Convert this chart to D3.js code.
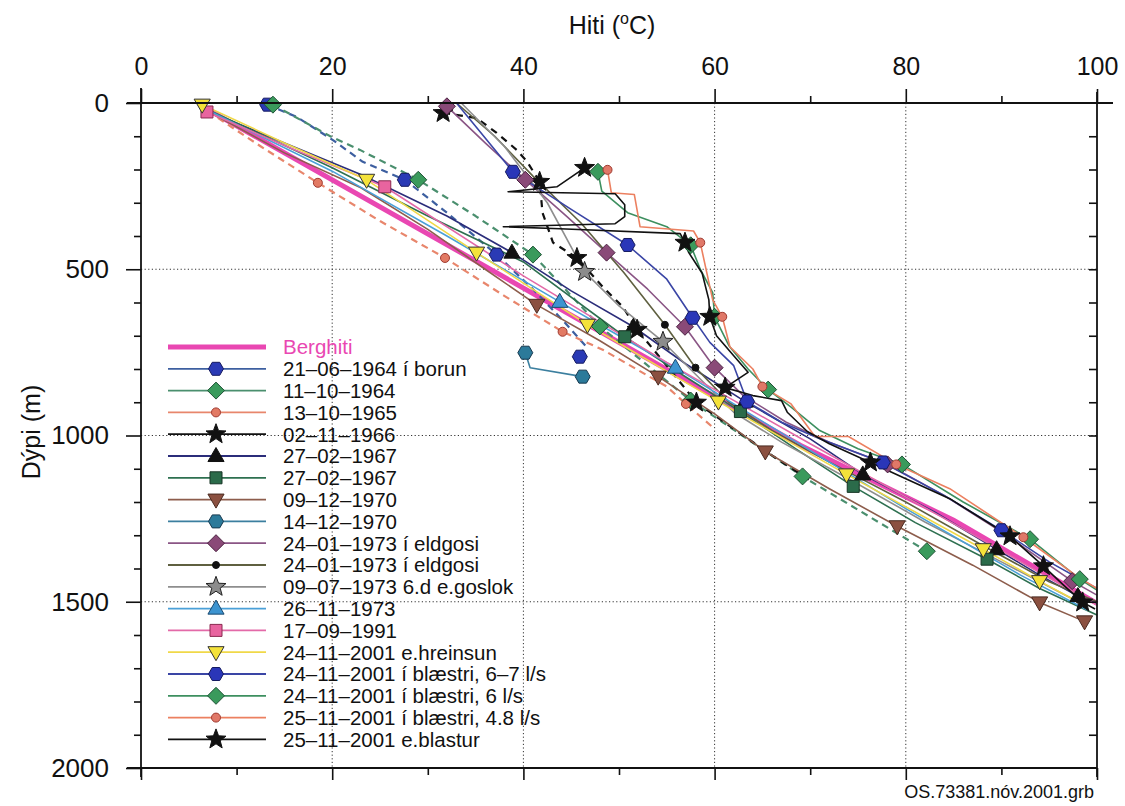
<!DOCTYPE html>
<html><head><meta charset="utf-8">
<script src="https://cdn.jsdelivr.net/npm/d3@7"></script>
<style>body{margin:0;background:#fff} svg{display:block} text{font-family:"Liberation Sans",Arial,Helvetica,sans-serif}</style>
</head><body><svg id="c" width="1125" height="806"></svg>
<script>
// ---------- data: [temperature °C, depth m, marker flag] ----------
const xMajor = [0,20,40,60,80,100];
const xMinor = [10,30,50,70,90];
const yMajor = [0,500,1000,1500,2000];
const xGrid = [20,40,60,80];
const yGrid = [500,1000,1500];

const berghiti = [[7,20],[35,475],[69,1030],[85,1255],[100,1505]];

const s1964a = [[13.2,5,1],[16.3,42,0],[20,110,0],[23.2,177,0],[27.6,231,1],[32,330,0],[37.2,456,1],[41,560,0],[44,650,0],[46.5,730,0],[45.9,763,1]];
const s1964b = [[13.8,5,1],[19.8,100,0],[22.9,141,0],[29,231,1],[35,340,0],[41,456,1],[48,672,1],[57.5,895,1],[69.2,1123,1],[82.2,1348,1]];
const s1965 = [[7,25,0],[12.5,130,0],[18.5,240,1],[25,355,0],[31.8,466,1],[38,580,0],[44.1,688,1],[48.3,742,0],[55,853,0],[57,905,1],[60,980,0]];
const s1966 = [[31.6,30,1],[35.1,45,0],[37.2,90,0],[39.3,141,0],[40.4,177,0],[41.7,237,1],[42,330,0],[43.1,420,0],[45.6,466,1],[48.3,553,0],[50.4,613,0],[51.9,682,1],[55,790,0],[58.1,901,1],[62,980,0],[66,1060,0],[70.3,1141,0]];
const s1967a = [[7,25,0],[15,120,0],[23,215,0],[32,340,0],[38.8,450,1],[45,565,0],[51.5,673,1],[57,785,0],[63.2,898,1],[70,1010,0],[75.5,1117,1],[83,1230,0],[89.5,1342,1],[94,1420,0],[98,1483,1],[100,1505,0]];
const s1967b = [[7,20,0],[20,195,0],[30,340,0],[40,478,0],[50.6,703,1],[56.5,815,0],[62.7,928,1],[68.5,1040,0],[74.5,1153,1],[81,1262,0],[88.5,1372,1],[94,1460,0],[100,1540,0]];
const s1970a = [[7,25,0],[15,150,0],[23,255,0],[30,380,0],[36,500,0],[41.4,607,1],[48,715,0],[54.1,823,1],[60,935,0],[65.3,1048,1],[72,1160,0],[79.1,1273,1],[87,1390,0],[94,1502,1],[98.7,1559,1]];
const s1970b = [[40.2,751,1],[40.7,796,0],[46.2,823,1]];
const s1973a = [[32,10,1],[36,120,0],[40.2,231,1],[44.5,340,0],[48.7,450,1],[53,560,0],[56.9,673,1],[60,796,1],[63,880,0],[67.5,960,0],[72,1020,0],[78.1,1087,1],[84,1180,0],[90,1290,0],[97.4,1438,1],[100,1480,0]];
const s1973b = [[33,0,0],[37,100,0],[41,220,0],[46,360,0],[50.5,510,0],[54.8,667,1],[58,796,1],[61.5,900,0],[66,985,0],[72,1080,0],[80,1200,0],[88,1330,0],[95,1440,0],[100,1500,0]];
const s1973c = [[33.5,0,0],[38,130,0],[42.5,300,0],[46.4,508,1],[50,610,0],[54.6,718,1],[58.5,830,0],[62,930,0],[67,1020,0],[74,1130,0],[82,1260,0],[90,1380,0],[98,1500,0]];
const s1973d = [[7,22,0],[20,205,0],[32,400,0],[43.8,598,1],[50,700,0],[55.9,796,1],[62,905,0],[68,1010,0],[80,1220,0],[92,1420,0],[99,1525,0]];
const s1991 = [[6.9,27,1],[16,140,0],[25.5,252,1],[40,520,0],[55,780,0],[70,1025,0],[85,1265,0],[100,1510,0]];
const s2001a = [[6.4,5,1],[15,120,0],[23.6,231,1],[35.1,450,1],[46.7,667,1],[60.4,898,1],[73.8,1117,1],[88.1,1342,1],[94,1438,1],[98,1500,0]];
const s2001b = [[33,0,0],[38.9,207,1],[45,320,0],[50.9,427,1],[55,530,0],[57.7,646,1],[59.5,720,0],[62,790,0],[63.4,898,1],[67,960,0],[71,1010,0],[77.6,1081,1],[84,1180,0],[90,1285,1],[95,1380,0],[100,1460,0]];
const s2001c = [[47.8,207,1],[48.2,265,0],[50.9,330,0],[55,372,0],[57.5,428,1],[58.5,500,0],[59.8,570,0],[60,643,1],[61.5,730,0],[63.5,800,0],[65.6,862,1],[68,915,0],[71,985,0],[75,1040,0],[79.6,1087,1],[86,1200,0],[93,1312,1],[98.2,1432,1],[100,1465,0]];
const s2001d = [[48.8,201,1],[49.2,270,0],[51.6,275,0],[52.2,372,0],[57.8,385,0],[58.5,420,1],[59.8,592,0],[60.8,643,1],[61.6,733,0],[64,800,0],[65,853,1],[68,905,0],[70.5,1003,0],[74,1003,0],[79,1087,1],[84.6,1160,0],[92.3,1306,1],[98,1425,0],[100,1460,0]];
const s2001e = [[46.4,195,1],[43.5,252,0],[38.4,267,0],[49.6,273,0],[50.6,306,0],[50.6,342,0],[49.6,363,0],[37.9,372,0],[43.8,378,0],[56.4,393,0],[56.9,420,1],[57.3,450,0],[58.7,512,0],[59.4,592,0],[59.5,643,1],[60.2,700,0],[62,760,0],[63.5,810,0],[61.1,856,1],[64,880,0],[67,895,0],[67.6,930,0],[69.7,988,0],[72,1025,0],[76.3,1081,1],[80,1130,0],[84.6,1190,0],[90.9,1303,1],[94.4,1393,1],[96.5,1450,0],[98.5,1502,1],[99.8,1522,0]];

const labels = ["21–06–1964 í borun","11–10–1964","13–10–1965","02–11–1966","27–02–1967","27–02–1967","09–12–1970","14–12–1970","24–01–1973 í eldgosi","24–01–1973 í eldgosi","09–07–1973 6.d e.goslok","26–11–1973","17–09–1991","24–11–2001 e.hreinsun","24–11–2001 í blæstri, 6–7 l/s","24–11–2001 í blæstri, 6 l/s","25–11–2001 í blæstri, 4.8 l/s","25–11–2001 e.blastur"];
const seriesData = [s1964a,s1964b,s1965,s1966,s1967a,s1967b,s1970a,s1970b,s1973a,s1973b,s1973c,s1973d,s1991,s2001a,s2001b,s2001c,s2001d,s2001e];

// ---------- styles ----------
const styles = [
 {line:"#3d5fa0",dash:"7,5",shape:"hex",fill:"#2a3ab5",stroke:"#151a60",r:7.5},
 {line:"#4a8f6e",dash:"7,5",shape:"diamond",fill:"#3a9a5c",stroke:"#1f5236",r:8.5},
 {line:"#e8866c",dash:"7,5",shape:"circle",fill:"#e27a64",stroke:"#a03a30",r:4.5},
 {line:"#111",dash:"7,6",shape:"star",fill:"#111",stroke:"#111",r:10.5},
 {line:"#2b2d7a",dash:null,shape:"tri",fill:"#111",stroke:"#111",r:8.5},
 {line:"#2e7050",dash:null,shape:"square",fill:"#2b6b4a",stroke:"#173525",r:6},
 {line:"#8d5d4c",dash:null,shape:"tridown",fill:"#8b5040",stroke:"#4a2a20",r:8.5},
 {line:"#3b7f9f",dash:null,shape:"hex",fill:"#2c7a9a",stroke:"#17384e",r:7.5},
 {line:"#8a5585",dash:null,shape:"diamond",fill:"#8a4a78",stroke:"#4a2040",r:8.5},
 {line:"#5f6040",dash:null,shape:"circle",fill:"#111",stroke:"#111",r:3.5},
 {line:"#8e8e8e",dash:null,shape:"star",fill:"#8c8c8c",stroke:"#222",r:10.5},
 {line:"#4aa0d8",dash:null,shape:"tri",fill:"#3d94d0",stroke:"#1a4a70",r:8.5},
 {line:"#e36aa8",dash:null,shape:"square",fill:"#e8649f",stroke:"#8a2a50",r:6},
 {line:"#f0d848",dash:null,shape:"tridown",fill:"#f4e23a",stroke:"#333",r:8.5},
 {line:"#3a45a5",dash:null,shape:"hex",fill:"#2a36b8",stroke:"#151a60",r:7.5},
 {line:"#3d8f5f",dash:null,shape:"diamond",fill:"#3a9a5c",stroke:"#1f5236",r:8.5},
 {line:"#ec8060",dash:null,shape:"circle",fill:"#e07868",stroke:"#a03a30",r:4.5},
 {line:"#111",dash:null,shape:"star",fill:"#111",stroke:"#111",r:10.5}
];
const bergColor = "#e947b2";

function shapePath(t, r){
  const p=[];
  if(t==="hex"){ for(let i=0;i<6;i++){const a=Math.PI/3*i; p.push([r*Math.cos(a), r*Math.sin(a)]);} }
  else if(t==="diamond"){ p.push([0,-r],[r,0],[0,r],[-r,0]); }
  else if(t==="square"){ p.push([-r,-r],[r,-r],[r,r],[-r,r]); }
  else if(t==="tri"){ p.push([0,-r],[r*0.95,r*0.65],[-r*0.95,r*0.65]); }
  else if(t==="tridown"){ p.push([0,r],[r*0.95,-r*0.65],[-r*0.95,-r*0.65]); }
  else if(t==="star"){ for(let i=0;i<10;i++){const a=-Math.PI/2+Math.PI/5*i; const rr=i%2?r*0.42:r; p.push([rr*Math.cos(a), rr*Math.sin(a)]);} }
  else if(t==="circle"){ return d3.arc()({innerRadius:0,outerRadius:r,startAngle:0,endAngle:2*Math.PI}); }
  return "M"+p.map(q=>q[0].toFixed(2)+","+q[1].toFixed(2)).join("L")+"Z";
}

const svg = d3.select("#c");
svg.append("rect").attr("width",1125).attr("height",806).attr("fill","#fff");
const x = d3.scaleLinear().domain([0,100]).range([141,1097]);
const y = d3.scaleLinear().domain([0,2000]).range([103,768]);

// grid
const grid = svg.append("g").attr("stroke","#333").attr("stroke-width",1).attr("stroke-dasharray","1.2,2.4");
grid.selectAll(".gx").data(xGrid).join("line").attr("x1",d=>x(d)).attr("x2",d=>x(d)).attr("y1",y(0)).attr("y2",y(2000));
grid.selectAll(".gy").data(yGrid).join("line").attr("y1",d=>y(d)).attr("y2",d=>y(d)).attr("x1",x(0)).attr("x2",x(100));

// series
const line = d3.line().x(d=>x(d[0])).y(d=>y(d[1]));
const plot = svg.append("g");
plot.append("path").attr("d",line(berghiti)).attr("fill","none").attr("stroke",bergColor).attr("stroke-width",5);
seriesData.forEach((s,i)=>{
  const st = styles[i];
  plot.append("path").attr("d",line(s)).attr("fill","none").attr("stroke",st.line)
    .attr("stroke-width",st.dash?2.2:1.6).attr("stroke-dasharray",st.dash).attr("stroke-linejoin","round");
});
seriesData.forEach((s,i)=>{
  const st = styles[i];
  plot.selectAll(null).data(s.filter(d=>d[2])).join("path")
    .attr("d",shapePath(st.shape,st.r)).attr("transform",d=>`translate(${x(d[0])},${y(d[1])})`)
    .attr("fill",st.fill).attr("stroke",st.stroke).attr("stroke-width",1);
});

// axes
function styleAxis(g,fs){ g.select(".domain").remove(); g.selectAll("line").attr("stroke","#111").attr("stroke-width",1.6); g.selectAll("text").attr("font-size",fs).attr("fill","#111").attr("font-family","Liberation Sans, Arial, sans-serif"); }
svg.append("g").attr("transform",`translate(0,${y(0)})`).call(d3.axisTop(x).tickValues(xMajor).tickSize(14).tickPadding(14).tickFormat(d3.format("d"))).call(g=>styleAxis(g,25));
svg.append("g").attr("transform",`translate(0,${y(0)})`).call(d3.axisTop(x).tickValues(xMinor).tickSize(7).tickFormat("")).call(g=>styleAxis(g,25));
svg.append("g").attr("transform",`translate(${x(0)},0)`).call(d3.axisLeft(y).tickValues(yMajor).tickSize(15).tickPadding(17).tickFormat(d3.format("d"))).call(g=>styleAxis(g,26));
svg.append("g").attr("transform",`translate(${x(0)},0)`).call(d3.axisLeft(y).tickValues(d3.range(100,2000,100).filter(v=>v%500)).tickSize(7).tickFormat("")).call(g=>styleAxis(g,26));
svg.append("g").attr("transform",`translate(${x(100)},0)`).call(d3.axisLeft(y).tickValues(d3.range(100,2000,100)).tickSize(8).tickFormat("")).call(g=>styleAxis(g,26));
svg.append("g").attr("transform",`translate(0,${y(2000)})`).call(d3.axisBottom(x).tickValues(xMajor).tickSize(12).tickFormat("")).call(g=>styleAxis(g,26));
svg.append("g").attr("transform",`translate(0,${y(2000)})`).call(d3.axisBottom(x).tickValues(xMinor).tickSize(7).tickFormat("")).call(g=>styleAxis(g,26));
const ax = svg.append("g").attr("stroke","#111").attr("stroke-width",1.8);
ax.append("line").attr("x1",x(0)-14).attr("x2",x(100)+16).attr("y1",y(0)).attr("y2",y(0));
ax.append("line").attr("x1",x(0)-14).attr("x2",x(100)).attr("y1",y(2000)).attr("y2",y(2000));
ax.append("line").attr("x1",x(0)).attr("x2",x(0)).attr("y1",y(0)-15).attr("y2",y(2000)+9);
ax.append("line").attr("x1",x(100)).attr("x2",x(100)).attr("y1",y(0)-11).attr("y2",y(2000)+9);

// titles
const tt = svg.append("text").attr("x",612).attr("y",34).attr("text-anchor","middle").attr("font-size",25).attr("fill","#111");
tt.append("tspan").text("Hiti (");
tt.append("tspan").attr("font-size",16).attr("dy",-10).text("o");
tt.append("tspan").attr("dy",10).text("C)");
svg.append("text").attr("transform","translate(40,432) rotate(-90)").attr("text-anchor","middle").attr("font-size",25).attr("fill","#111").text("Dýpi (m)");
svg.append("text").attr("x",1094).attr("y",798).attr("text-anchor","end").attr("font-size",18).attr("fill","#111").text("OS.73381.nóv.2001.grb");

// legend
const lg = svg.append("g");
const rowY = i => 347 + 21.8*i;
lg.append("line").attr("x1",168).attr("x2",266).attr("y1",rowY(0)).attr("y2",rowY(0)).attr("stroke",bergColor).attr("stroke-width",5);
lg.append("text").attr("x",283).attr("y",rowY(0)).attr("dy","0.36em").attr("font-size",20.5).attr("fill",bergColor).text("Berghiti");
labels.forEach((lab,i)=>{
  const st = styles[i], yy = rowY(i+1);
  lg.append("line").attr("x1",168).attr("x2",266).attr("y1",yy).attr("y2",yy).attr("stroke",st.line).attr("stroke-width",1.8);
  lg.append("path").attr("d",shapePath(st.shape,st.r)).attr("transform",`translate(216,${yy})`).attr("fill",st.fill).attr("stroke",st.stroke).attr("stroke-width",1);
  lg.append("text").attr("x",283).attr("y",yy).attr("dy","0.36em").attr("font-size",20.5).attr("fill","#111").text(lab);
});
</script></body></html>
